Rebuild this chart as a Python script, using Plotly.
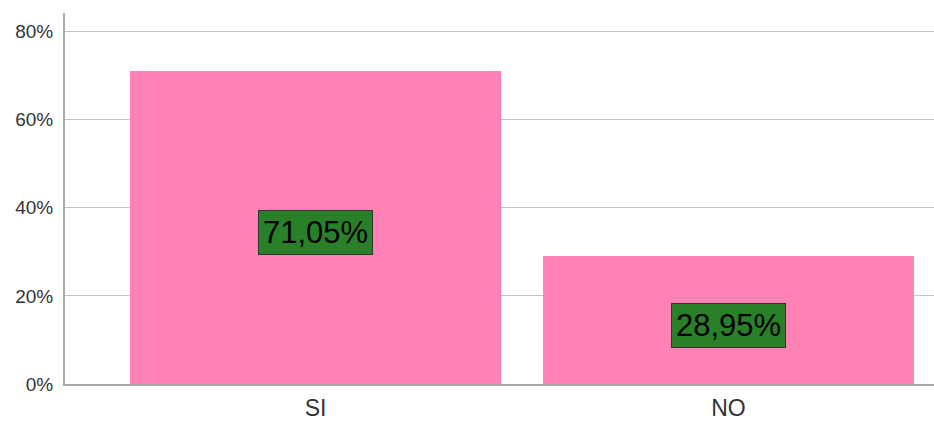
import plotly.graph_objects as go

categories = ["SI", "NO"]
values = [71.05, 28.95]
labels = ["71,05%", "28,95%"]
y_ticks = [0, 20, 40, 60, 80]
y_tick_text = ["0%", "20%", "40%", "60%", "80%"]

BAR_COLOR = "#FF82B4"
BOX_COLOR = "#2A8029"
FONT = "Liberation Sans, Arial, sans-serif"

fig = go.Figure()
fig.add_trace(go.Bar(
    x=categories,
    y=values,
    width=0.898,
    marker=dict(color=BAR_COLOR, line=dict(width=0)),
    showlegend=False,
    hoverinfo="skip",
))

# value labels sit in the middle of each bar inside a green box
for cat, val, lab in zip(categories, values, labels):
    fig.add_annotation(
        x=cat, y=val / 2, text=lab, showarrow=False, yshift=-5,
        font=dict(family=FONT, size=31, color="#000000"),
        bgcolor=BOX_COLOR, bordercolor="#333333", borderwidth=1, borderpad=4,
    )

fig.update_layout(
    width=934, height=421,
    margin=dict(l=65, r=0, t=13, b=34),
    paper_bgcolor="white", plot_bgcolor="white",
    font=dict(family=FONT, color="#333333"),
    xaxis=dict(
        range=[-0.6065, 1.4976],
        showgrid=False,
        showline=True, linecolor="#A8A8A8", linewidth=2,
        ticks="", tickfont=dict(size=23, color="#333333"),
        ticklabelstandoff=2,
        fixedrange=True,
    ),
    yaxis=dict(
        range=[0, 84.2],
        tickvals=y_ticks, ticktext=y_tick_text,
        showgrid=True, gridcolor="#C4C4C4", gridwidth=1,
        showline=True, linecolor="#A8A8A8", linewidth=2,
        zeroline=False,
        ticks="", tickfont=dict(size=19, color="#333333"),
        ticklabelstandoff=6,
        fixedrange=True,
    ),
    bargap=0,
)

# drop the default page margin so the figure sits at the window's top-left
fig.write_html(
    "out.html",
    config={"displayModeBar": False},
    post_script="document.body.style.margin='0';",
)
